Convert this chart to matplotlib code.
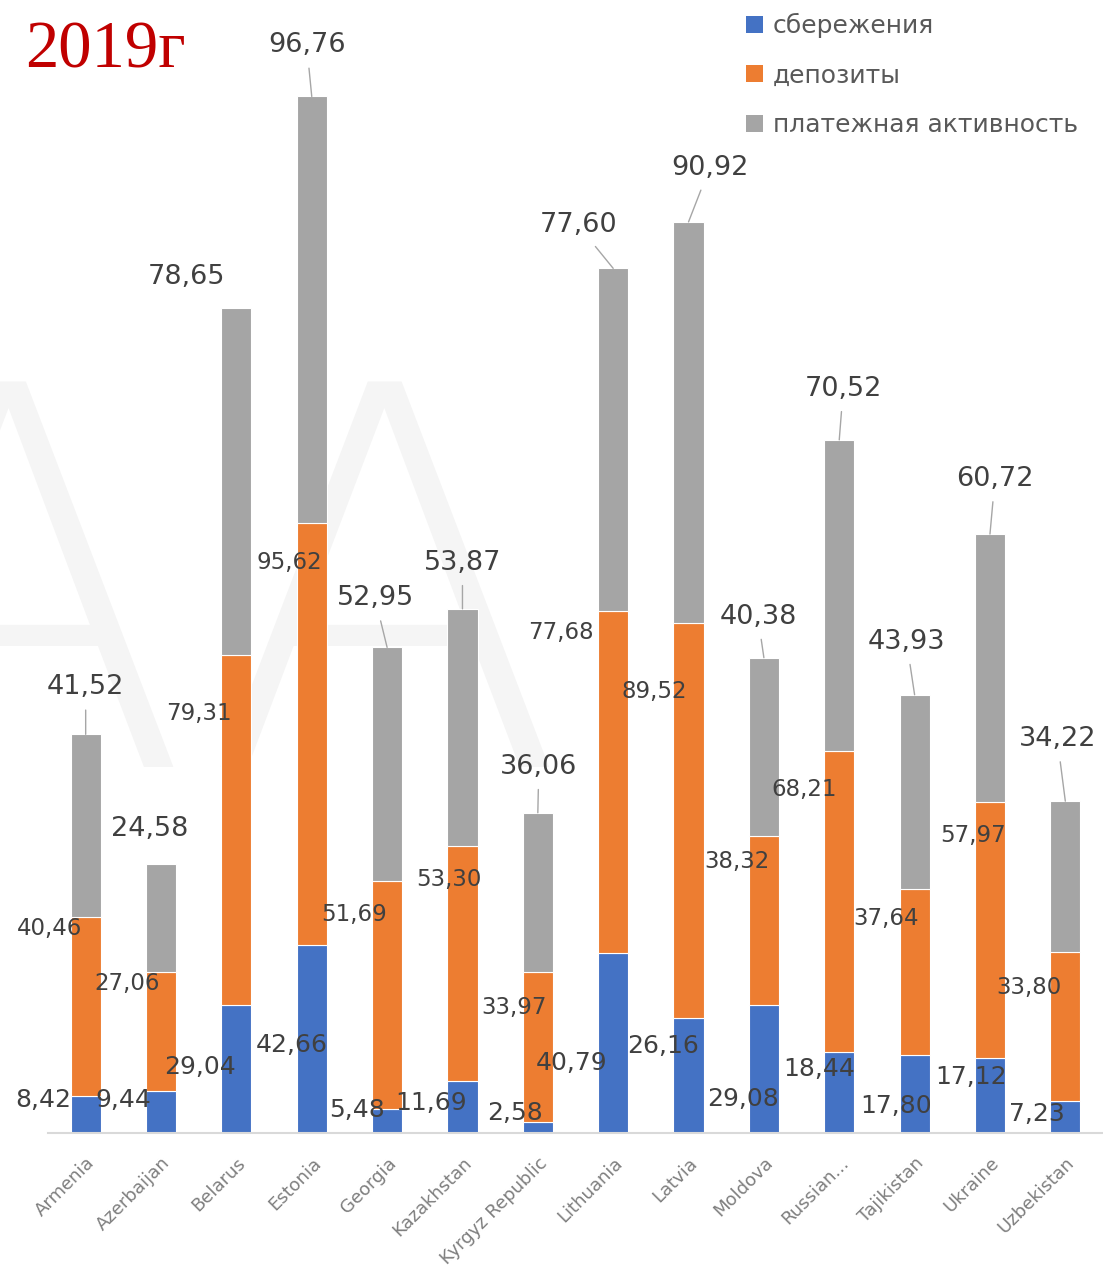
import matplotlib.pyplot as plt
import numpy as np
from matplotlib.patches import Patch

countries = ["Armenia", "Azerbaijan", "Belarus", "Estonia", "Georgia", "Kazakhstan",
             "Kyrgyz Republic", "Lithuania", "Latvia", "Moldova", "Russian...",
             "Tajikistan", "Ukraine", "Uzbekistan"]
savings = [8.42, 9.44, 29.04, 42.66, 5.48, 11.69, 2.58, 40.79, 26.16, 29.08, 18.44, 17.80, 17.12, 7.23]
deposits = [40.46, 27.06, 79.31, 95.62, 51.69, 53.30, 33.97, 77.68, 89.52, 38.32, 68.21, 37.64, 57.97, 33.80]
payments = [41.52, 24.58, 78.65, 96.76, 52.95, 53.87, 36.06, 77.60, 90.92, 40.38, 70.52, 43.93, 60.72, 34.22]
series_names = ["сбережения", "депозиты", "платежная активность"]

# label offsets in pixels (hand placed like in the original)
blue_off = [(-42, 33), (-38, 33), (-36, 66), (-20, 88), (-30, 23), (-31, 30), (-23, 20),
            (-42, 70), (-25, 87), (-21, 34), (-20, 64), (-19, 27), (-19, 56), (-28, 19)]
orange_off = [(-36, -11), (-34, -11), (-37, -58), (-22, -39), (-33, -34), (-14, -33), (-24, -36),
              (-52, -22), (-34, -69), (-27, -26), (-35, -39), (-29, -30), (-17, -34), (-36, -35)]
gray_off = [(0, 47), (-11, 35), (-50, 31), (-5, 51), (-12, 49), (0, 46), (1, 46),
            (-35, 43), (21, 54), (-6, 41), (4, 51), (-8, 53), (5, 55), (-8, 62)]
leader = [True, False, False, True, True, True, True, True, True, True, True, True, True, True]

colors = ["#4472C4", "#ED7D31", "#A5A5A5"]
txt = "#404040"

plt.rcParams['font.family'] = ['DejaVu Sans']

fig = plt.figure(figsize=(11.03, 12.66), dpi=100)
ax = fig.add_axes([48 / 1103, 133 / 1266, 1055 / 1103, 1133 / 1266])

x = np.arange(len(countries))
s = np.array(savings)
d = np.array(deposits)
p = np.array(payments)

w = 0.4
ax.bar(x, s, w, color=colors[0], edgecolor="white", linewidth=0.8, zorder=2)
ax.bar(x, d, w, bottom=s, color=colors[1], edgecolor="white", linewidth=0.8, zorder=2)
ax.bar(x, p, w, bottom=s + d, color=colors[2], edgecolor="white", linewidth=0.8, zorder=2)

fmt = lambda v: f"{v:.2f}".replace(".", ",")

for i in range(len(countries)):
    ax.annotate(fmt(s[i]), xy=(i, 0), xytext=blue_off[i], textcoords="offset pixels",
                ha="center", va="center", fontsize=18, color=txt, zorder=5)
    ax.annotate(fmt(d[i]), xy=(i, s[i] + d[i]), xytext=orange_off[i], textcoords="offset pixels",
                ha="center", va="center", fontsize=16.5, color=txt, zorder=5)
    arrow = dict(arrowstyle="-", color="#A6A6A6", lw=1, shrinkA=5, shrinkB=0) if leader[i] else None
    ax.annotate(fmt(p[i]), xy=(i, s[i] + d[i] + p[i]), xytext=gray_off[i], textcoords="offset pixels",
                ha="center", va="center", fontsize=19.5, color=txt, zorder=5, arrowprops=arrow)

ax.set_xlim(-0.5, len(countries) - 0.5)
ax.set_ylim(0, 1133 / 4.41)
ax.set_yticks([])
for sp in ["top", "right", "left"]:
    ax.spines[sp].set_visible(False)
ax.spines["bottom"].set_color("#D9D9D9")
ax.spines["bottom"].set_linewidth(1.5)
ax.set_xticks(x)
ax.set_xticklabels(countries, rotation=45, ha="right", va="top", rotation_mode="anchor",
                   fontsize=13, color="#7F7F7F")
ax.tick_params(axis="x", length=0, pad=15)

# faint watermark behind the bars
ax.text(198 / 1103, 1 - 767 / 1266, "AA", transform=fig.transFigure, fontsize=381,
        color="#F5F5F5", ha="center", va="baseline", fontweight="light", zorder=0, clip_on=False)

fig.text(25 / 1103, 1 - 67 / 1266, "2019г", fontsize=48, color="#C00000",
         family="Liberation Serif", ha="left", va="baseline")

handles = [Patch(facecolor=c) for c in colors]
fig.legend(handles, series_names, loc="upper left", bbox_to_anchor=(746 / 1103, 1 - 13 / 1266),
           frameon=False, fontsize=18, handlelength=0.68, handleheight=0.68,
           handletextpad=0.4, labelspacing=1.02, borderpad=0, borderaxespad=0, labelcolor="#595959")

fig.savefig("out.png", dpi=100)
